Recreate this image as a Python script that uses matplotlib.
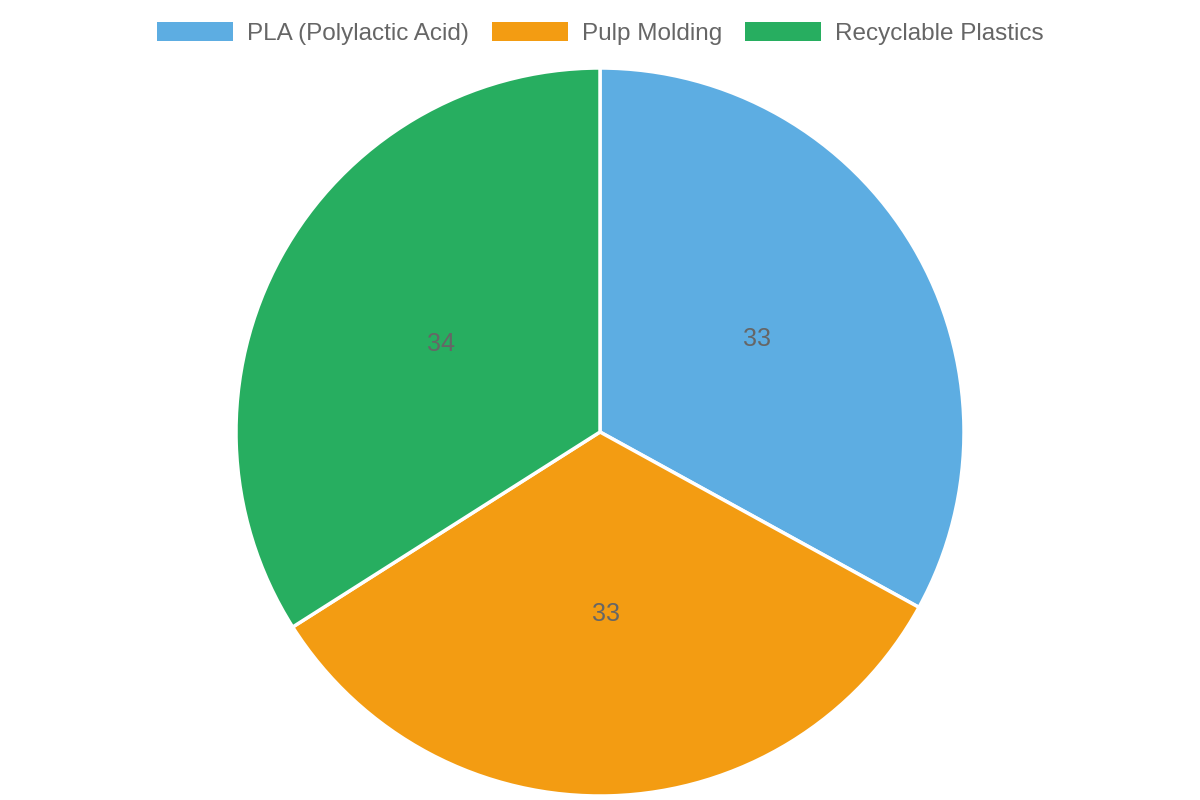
import matplotlib.pyplot as plt
from matplotlib.patches import Patch

categories = ['PLA (Polylactic Acid)', 'Pulp Molding', 'Recyclable Plastics']
values = [33, 33, 34]
colors = ['#5DADE2', '#F39C12', '#27AE60']

plt.rcParams['font.family'] = ['Liberation Sans', 'DejaVu Sans']

fig = plt.figure(figsize=(12, 8), dpi=100)
# pie centre at (600, 432) px from top, radius ~364 px
ax = fig.add_axes([236 / 1200, 4 / 800, 728 / 1200, 728 / 800])
wedges, texts = ax.pie(values, colors=colors, startangle=90, counterclock=False,
                       radius=1.0, labels=[str(v) for v in values], labeldistance=0.5,
                       wedgeprops=dict(edgecolor='white', linewidth=2.5),
                       textprops=dict(color='#666666', fontsize=18))
for t in texts:
    t.set_ha('center')
    t.set_va('center')
ax.set_xlim(-1, 1)
ax.set_ylim(-1, 1)
ax.set_aspect('equal')
ax.axis('off')

handles = [Patch(facecolor=c, edgecolor='none') for c in colors]
fs = 17.5
px = fs * 100 / 72
fig.legend(handles, categories, loc='center', bbox_to_anchor=(0.5, 1 - 33.5 / 800),
           ncol=3, frameon=False, fontsize=fs, labelcolor='#666666',
           handlelength=76 / px, handleheight=19 / px,
           handletextpad=14 / px, columnspacing=23 / px)

fig.savefig('out.png', dpi=100, facecolor='white')
